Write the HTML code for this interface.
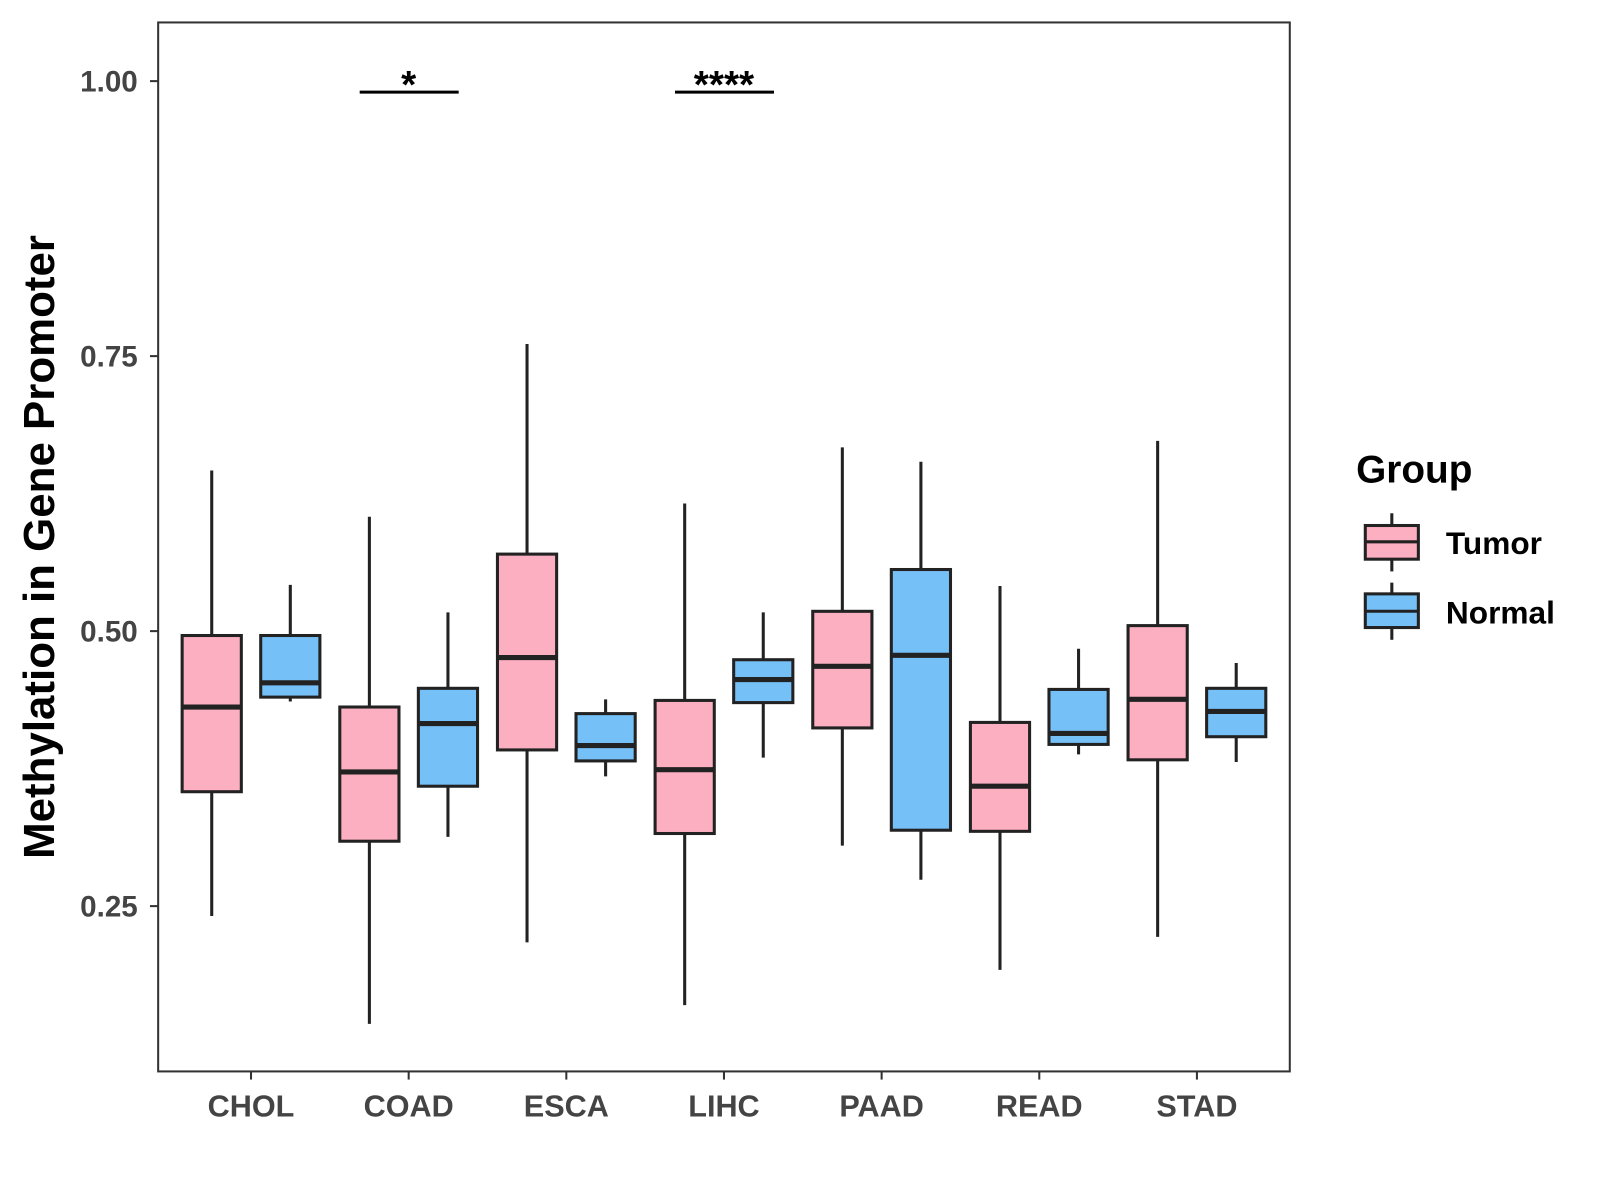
<!DOCTYPE html>
<html><head><meta charset="utf-8"><style>
html,body{margin:0;padding:0;background:#fff;}
svg{display:block;font-family:"Liberation Sans",Arial,sans-serif;}
</style></head><body>
<svg id="chart" width="1600" height="1200" viewBox="0 0 1600 1200" xmlns="http://www.w3.org/2000/svg">
<rect x="0" y="0" width="1600" height="1200" fill="#fff"/>
<g transform="scale(1.0204)">
<g id="plot"></g>
<rect x="155" y="22" width="1109" height="1028" fill="none" stroke="#333" stroke-width="2"/>
<text transform="translate(53,536) rotate(-90)" text-anchor="middle" font-size="43" font-weight="bold" fill="#000">Methylation in Gene Promoter</text>
<g>
<text x="1329" y="473" font-size="38" font-weight="bold" fill="#000">Group</text>
<g>
<line x1="1364" y1="503" x2="1364" y2="560" stroke="#222" stroke-width="3"/>
<rect x="1338" y="515" width="52" height="33" fill="#fcafc1" stroke="#222" stroke-width="3"/>
<line x1="1338" y1="531" x2="1390" y2="531" stroke="#222" stroke-width="3"/>
<text x="1417" y="543" font-size="31" font-weight="bold" fill="#000">Tumor</text>
</g>
<g>
<line x1="1364" y1="571" x2="1364" y2="627" stroke="#222" stroke-width="3"/>
<rect x="1338" y="582" width="52" height="33" fill="#76c0f8" stroke="#222" stroke-width="3"/>
<line x1="1338" y1="599" x2="1390" y2="599" stroke="#222" stroke-width="3"/>
<text x="1417" y="611" font-size="31" font-weight="bold" fill="#000">Normal</text>
</g>
</g>
</g>
</svg>
<script>
const categories = ["CHOL","COAD","ESCA","LIHC","PAAD","READ","STAD"];
// [low, q1, median, q3, high]
const tumorStats = [
 [0.241,0.354,0.431,0.496,0.646],
 [0.143,0.309,0.372,0.431,0.604],
 [0.217,0.392,0.476,0.570,0.761],
 [0.160,0.316,0.374,0.437,0.616],
 [0.305,0.412,0.468,0.518,0.667],
 [0.192,0.318,0.359,0.417,0.541],
 [0.222,0.383,0.438,0.505,0.673]
];
const normalStats = [
 [0.436,0.440,0.453,0.496,0.542],
 [0.313,0.359,0.416,0.448,0.517],
 [0.368,0.382,0.396,0.425,0.438],
 [0.385,0.435,0.456,0.474,0.517],
 [0.274,0.319,0.478,0.556,0.654],
 [0.388,0.397,0.407,0.447,0.484],
 [0.381,0.404,0.427,0.448,0.471]
];
const yTicks = [0.25,0.50,0.75,1.00];
const yTickLabels = ["0.25","0.50","0.75","1.00"];
const sigCategories = ["COAD","LIHC"];
const sigLabels = ["*","****"];
const sigLevel = 0.99;

const NS="http://www.w3.org/2000/svg";
const g=document.getElementById('plot');
function y(v){return 888-(v-0.25)*1078;}
function x(i){return 246+i*154.5;}
function mk(tag,attrs,parent){const e=document.createElementNS(NS,tag);for(const k in attrs)e.setAttribute(k,attrs[k]);(parent||g).appendChild(e);return e;}

yTicks.forEach((t,i)=>{
  const tk=mk('line',{x1:147,x2:155,y1:y(t),y2:y(t),stroke:'#333','stroke-width':2});
  
  
  const tl=mk('text',{x:135,y:y(t)+10,'text-anchor':'end','font-size':29,'font-weight':'bold',fill:'#444'});
  tl.textContent=yTickLabels[i];
  
  
});
categories.forEach((c,i)=>{
  const tk=mk('line',{x1:x(i),x2:x(i),y1:1050,y2:1058,stroke:'#333','stroke-width':2});
  
  
  const tl=mk('text',{x:x(i),y:1094,'text-anchor':'middle','font-size':30,'font-weight':'bold',fill:'#444'});
  tl.textContent=c;
  
  
});
function box(cx,s,fill,name){
  const grp=mk('g',{});
  
  
  mk('line',{x1:cx,x2:cx,y1:y(s[0]),y2:y(s[4]),stroke:'#222','stroke-width':3},grp);
  mk('rect',{x:cx-29,y:y(s[3]),width:58,height:y(s[1])-y(s[3]),fill:fill,stroke:'#222','stroke-width':3},grp);
  mk('line',{x1:cx-29,x2:cx+29,y1:y(s[2]),y2:y(s[2]),stroke:'#222','stroke-width':5},grp);
}
categories.forEach((c,i)=>{
  box(x(i)-38.5,tumorStats[i],'#fcafc1','box-tumor-'+c.toLowerCase());
  box(x(i)+38.5,normalStats[i],'#76c0f8','box-normal-'+c.toLowerCase());
});
sigCategories.forEach((c,k)=>{
  const i=categories.indexOf(c);
  const ln=mk('line',{x1:x(i)-48,x2:x(i)+49,y1:y(sigLevel),y2:y(sigLevel),stroke:'#000','stroke-width':3});
  
  
  const t=mk('text',{x:x(i),y:y(sigLevel)+6,'text-anchor':'middle','font-size':38,'font-weight':'bold',fill:'#000'});
  t.textContent=sigLabels[k];
  
  
});
</script>
</body></html>
